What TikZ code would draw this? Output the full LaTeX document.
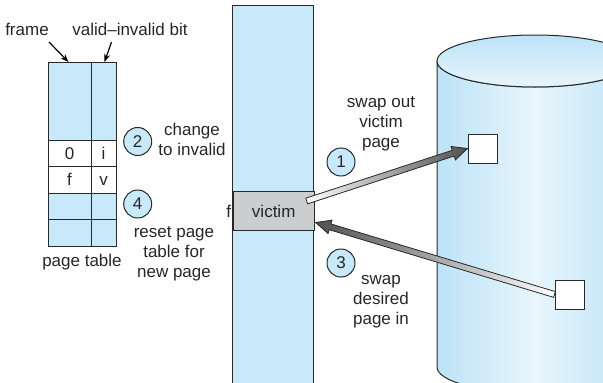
\documentclass[tikz,border=0pt]{standalone}
\usepackage{fontspec}
\setmainfont{Liberation Sans}
\usetikzlibrary{arrows.meta,positioning,calc}

\definecolor{paleblue}{RGB}{199,233,249}
\definecolor{diskblue}{RGB}{188,227,247}
\definecolor{diskwhite}{RGB}{232,245,252}
\definecolor{victimgray}{RGB}{204,205,207}
\definecolor{arrowdark}{RGB}{80,80,80}
\definecolor{outline}{RGB}{40,40,40}

% thick shaded arrow from #1 (tail) to #2 (tip), #3 = shading
\newcommand{\fatarrow}[3]{%
  \coordinate (neck) at ($(#2)!15pt!(#1)$);
  \shade[draw=outline, line width=0.8pt, #3]
    ($(#1)!3pt!90:(#2)$) -- ($(neck)!3pt!90:(#2)$) -- ($(neck)!7pt!90:(#2)$)
    -- (#2) -- ($(neck)!7pt!-90:(#2)$) -- ($(neck)!3pt!-90:(#2)$)
    -- ($(#1)!3pt!-90:(#2)$) -- cycle;}

\begin{document}
\begin{tikzpicture}[x=1pt, y=-1pt, line width=1pt, font=\fontsize{17}{20}\selectfont,
    text=black!85,
    stepno/.style={circle, draw=outline, fill=paleblue, minimum size=28pt, inner sep=0pt},
    cellentry/.style={inner sep=0pt, text height=12pt, text depth=0pt},
    block/.style={draw=outline, fill=white, minimum size=29pt, inner sep=0pt},
    pointer/.style={-{Stealth[length=8pt, width=6pt]}, line width=1.2pt},
    note/.style={align=center, inner sep=0pt}]
  \useasboundingbox (0,0) rectangle (603,383);

  % backing store
  \shade[left color=diskblue, right color=diskblue, middle color=diskwhite, draw=outline]
    (437,61) -- (437,367) arc[start angle=180, end angle=0, x radius=98, y radius=26]
    -- (633,61) arc[start angle=0, end angle=180, x radius=98, y radius=26] -- cycle;
  \shade[top color=diskblue, bottom color=diskwhite, draw=outline]
    (535,61) ellipse[x radius=98, y radius=26];
  \node[block] (blk1) at (482.5,148.5) {};
  \node[block] (blk2) at (569.5,294.5) {};

  % physical memory
  \draw[draw=outline, fill=paleblue] (232.7,5) rectangle (313.8,395);
  \node[draw=outline, fill=victimgray, minimum width=81pt, minimum height=39pt,
    anchor=north west] (victim) at (232.7,191) {victim};
  \node[anchor=east, inner sep=1pt] (fmark) at (victim.west) {f};

  % page table
  \draw[draw=outline, fill=paleblue] (48,62) rectangle (116,140);
  \draw[draw=outline, fill=white] (48,140) rectangle (116,193);
  \draw[draw=outline, fill=paleblue] (48,193) rectangle (116,246);
  \draw[draw=outline] (48,166) -- (116,166);
  \draw[draw=outline] (48,219) -- (116,219);
  \draw[draw=outline] (91,62) -- (91,246);
  \node[cellentry] (e0) at (69.5,153) {0};
  \node[cellentry] (ei) at (103.5,153) {i};
  \node[cellentry] (ef) at (69.5,179.5) {f};
  \node[cellentry] (ev) at (103.5,179.5) {v};
  \node[inner sep=0pt] (ptlbl) at (82,262) {page table};

  \node[inner sep=0pt] (framelbl) at (27,29) {frame};
  \node[inner sep=0pt] (bitlbl) at (130,29) {valid--invalid bit};
  \coordinate (frametail) at (49,42);
  \coordinate (frametop) at (68.5,62);
  \coordinate (bittail) at (111.5,42);
  \coordinate (bittop) at (104.5,62);
  \draw[pointer] (frametail) -- (frametop);
  \draw[pointer] (bittail) -- (bittop);

  % steps
  \node[stepno] (s2) at (137.7,141.5) {2};
  \node[note] (n2) at (192,139) {change\\to invalid};
  \node[stepno] (s4) at (137.7,204) {4};
  \node[note] (n4) at (174,254) {reset page\\table for\\new page};
  \node[stepno] (s1) at (341,162) {1};
  \node[note] (n1) at (381,124) {swap out\\victim\\page};
  \node[stepno] (s3) at (341,263) {3};
  \node[note] (n3) at (381,302) {swap\\desired\\page in};

  % page moves
  \coordinate (outtail) at ($(victim.east)+(-8,-10)$);
  \coordinate (intip) at ($(victim.east)+(1,11.5)$);
  \fatarrow{outtail}{blk1.west}{left color=white, right color=arrowdark}
  \fatarrow{blk2.west}{intip}{left color=arrowdark, right color=white}
\end{tikzpicture}
\end{document}
